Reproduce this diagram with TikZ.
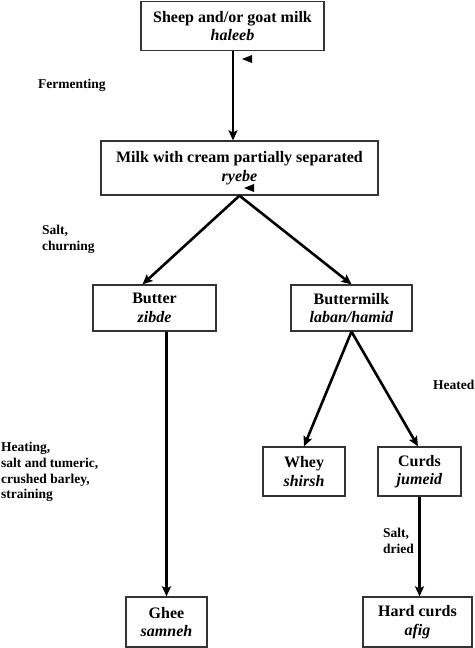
\documentclass[tikz,border=0pt]{standalone}
\usepackage{fontspec}
\setmainfont{Liberation Serif}
\usetikzlibrary{arrows.meta}
\begin{document}
\begin{tikzpicture}[x=1pt,y=-1pt,
  box/.style={draw=black!80,line width=1.3pt,inner sep=0pt,align=center,
    font=\fontsize{16}{18.5}\selectfont\bfseries},
  lbl/.style={inner sep=0pt,anchor=west,align=left,
    font=\fontsize{13.5}{15.8}\selectfont\bfseries},
  arr/.style={line width=2.6pt,-{Stealth[length=10pt,width=9pt,inset=2pt]}},
  tri/.style={fill=black}]
\useasboundingbox (0,0) rectangle (474,648);
% boxes
\node[box,minimum width=183pt,minimum height=49pt] (milk) at (232.5,26)
  {Sheep and/or goat milk\\\textit{haleeb}};
\node[box,minimum width=277pt,minimum height=54pt] (ryebe) at (239.5,168)
  {Milk with cream partially separated\\\textit{ryebe}};
\node[box,minimum width=123pt,minimum height=46pt] (butter) at (154.5,308)
  {Butter\\\textit{zibde}};
\node[box,minimum width=121pt,minimum height=46pt] (bmilk) at (351.5,308)
  {Buttermilk\\\textit{laban/hamid}};
\node[box,minimum width=82pt,minimum height=49pt] (whey) at (304,471.5)
  {Whey\\\textit{shirsh}};
\node[box,minimum width=83pt,minimum height=49pt] (curds) at (419.5,471.5)
  {Curds\\\textit{jumeid}};
\node[box,minimum width=81pt,minimum height=50pt] (ghee) at (166.5,622)
  {Ghee\\\textit{samneh}};
\node[box,minimum width=109pt,minimum height=50pt] (hard) at (417.5,622)
  {Hard curds\\\textit{afig}};
% labels
\node[lbl] (lferm) at (38,85) {Fermenting};
\node[lbl] (lsalt) at (42,239.5) {Salt,\\churning};
\node[lbl] (lheated) at (433,385) {Heated};
\node[lbl] (lheat) at (1,472) {Heating,\\salt and tumeric,\\crushed barley,\\straining};
\node[lbl] (ldried) at (383,541) {Salt,\\dried};
% connectors
\draw[arr] ([xshift=0.5pt]milk.south) -- ([xshift=0.5pt]milk.south |- ryebe.north);
\draw[arr] (ryebe.south) -- ([xshift=-12pt]butter.north);
\draw[arr] (ryebe.south) -- (bmilk.north);
\draw[arr] (ghee.north |- butter.south) -- (ghee.north);
\draw[arr] (bmilk.south) -- (whey.north);
\draw[arr] (bmilk.south) -- ([xshift=-1.5pt]curds.north);
\draw[arr] (curds.south) -- (curds.south |- hard.north);
% small markers
\fill[tri] (252,55) -- (252,63) -- (242,59) -- cycle;
\fill[tri] (254,184) -- (254,192) -- (244,188) -- cycle;
\end{tikzpicture}
\end{document}
